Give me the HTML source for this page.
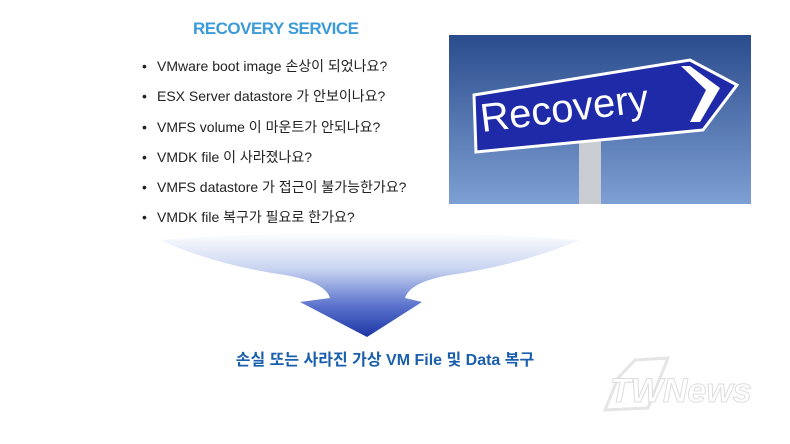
<!DOCTYPE html>
<html><head><meta charset="utf-8"><style>
body{margin:0;width:790px;height:444px;background:#fff;position:relative;overflow:hidden;font-family:"Liberation Sans","Noto Sans CJK KR",sans-serif}
.t{position:absolute;left:193px;top:19px;width:160px;text-align:center;font-weight:bold;font-size:17px;color:#3b9ad8;letter-spacing:-0.5px;white-space:nowrap}
.b{position:absolute;left:142px;font-size:14px;color:#222;white-space:nowrap}
.b span{display:inline-block;width:15px}
.bot{position:absolute;left:200px;top:346px;width:370px;text-align:center;font-weight:bold;font-size:16px;color:#1a5fae;white-space:nowrap}
</style></head><body>
<div class="t">RECOVERY SERVICE</div>
<div class="b" style="top:56px"><span>•</span>VMware boot image 손상이 되었나요?</div>
<div class="b" style="top:86px"><span>•</span>ESX Server datastore 가 안보이나요?</div>
<div class="b" style="top:117px"><span>•</span>VMFS volume 이 마운트가 안되나요?</div>
<div class="b" style="top:147px"><span>•</span>VMDK file 이 사라졌나요?</div>
<div class="b" style="top:177px"><span>•</span>VMFS datastore 가 접근이 불가능한가요?</div>
<div class="b" style="top:207px"><span>•</span>VMDK file 복구가 필요로 한가요?</div>
<svg style="position:absolute;left:0;top:0" width="790" height="444">
<defs>
<linearGradient id="sky" x1="0" y1="0" x2="0" y2="1"><stop offset="0" stop-color="#2b4c8c"/><stop offset="1" stop-color="#7d9fd3"/></linearGradient>
<linearGradient id="ar" x1="0" y1="0" x2="0" y2="1"><stop offset="0" stop-color="#ffffff"/><stop offset="0.35" stop-color="#c8d4f0"/><stop offset="0.7" stop-color="#5b73cc"/><stop offset="1" stop-color="#1c35a5"/></linearGradient>
</defs>
<rect x="449" y="35" width="302" height="169" fill="url(#sky)"/>
<rect x="579" y="140" width="22" height="64" fill="#c9ccd0"/>
<polygon points="474,95 690,60 737,85 703,130 476,152" fill="#1e2aa8" stroke="#fff" stroke-width="3"/>
<polygon points="681,66 690,66 720,88 700,122 690,122 706,90" fill="#fff"/>
<text x="482" y="132" font-family="Liberation Sans" font-size="40" fill="#fff" transform="rotate(-7 482 132)">Recovery</text>
<path d="M160,240 Q370,225 580,240 Q520,265 450,275 Q410,282 405,298 L422,302 L367,337 L300,302 L330,298 Q325,282 285,275 Q215,265 160,240Z" fill="url(#ar)"/>
<g opacity="0.25" fill="none" stroke="#999" stroke-width="3">
<path d="M618,378 L635,360 L668,358 L648,408 L605,410Z"/>
</g>
<text x="610" y="402" font-family="Liberation Sans" font-style="italic" font-weight="bold" font-size="34" fill="#fff" stroke="#ddd" stroke-width="1">TWNews</text>
</svg>
<div class="bot">손실 또는 사라진 가상 VM File 및 Data 복구</div>
</body></html>
